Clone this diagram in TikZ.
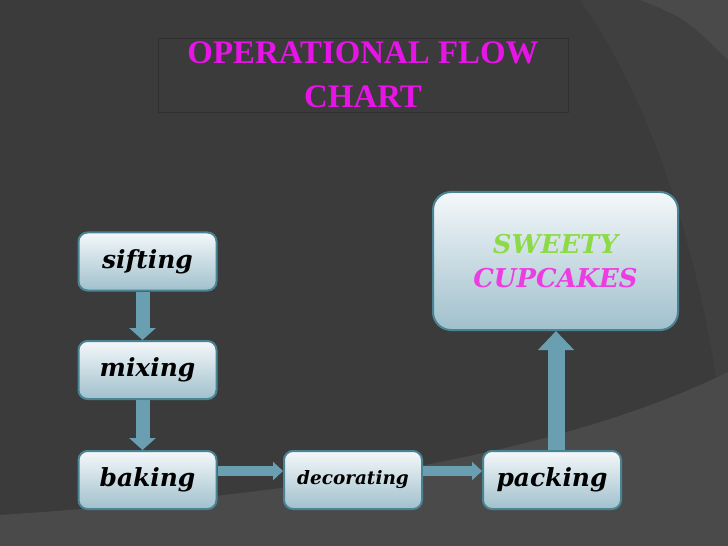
\documentclass[tikz,border=0pt]{standalone}
\usepackage{fontspec}
\usetikzlibrary{arrows.meta}
\newfontfamily\titlefont{Liberation Serif}
\newfontfamily\stepfont{DejaVu Serif}

\definecolor{slate}{RGB}{59,59,59}
\definecolor{slatemid}{RGB}{64,64,64}
\definecolor{slatelight}{RGB}{74,74,74}
\definecolor{frameline}{RGB}{48,48,48}
\definecolor{boxedge}{RGB}{74,132,148}
\definecolor{boxtop}{RGB}{244,248,250}
\definecolor{boxbot}{RGB}{160,192,204}
\definecolor{flowc}{RGB}{106,159,177}
\definecolor{titlec}{RGB}{230,20,230}
\definecolor{sweetc}{RGB}{140,218,70}
\definecolor{cakec}{RGB}{236,60,226}

\begin{document}
\begin{tikzpicture}[
  x=1bp, y=-1bp,
  box/.style={draw=boxedge, line width=2bp, rounded corners=9bp,
    top color=boxtop, bottom color=boxbot, minimum width=138bp, minimum height=58bp,
    inner sep=0pt, font=\stepfont\bfseries\itshape\fontsize{25}{27}\selectfont, text=black},
  bigbox/.style={box, minimum width=245bp, minimum height=138bp, rounded corners=18bp,
    align=center, font=\stepfont\bfseries\itshape\fontsize{26}{34}\selectfont},
  flow/.style={draw=flowc, line width=14bp, -{Triangle[length=12bp, width=26bp]}},
  flowthin/.style={draw=flowc, line width=9.5bp, -{Triangle[length=10bp, width=18bp]}},
  flowbig/.style={draw=flowc, line width=17bp, -{Triangle[length=19bp, width=35bp]}}
]

% --- Background ---
\useasboundingbox (0,0) rectangle (728,546);
\fill[slate] (0,0) rectangle (728,546);
\fill[slatemid] (580,0) .. controls (665,120) and (712,300) .. (728,470) -- (728,0) -- cycle;
\fill[slatelight] (640,0) .. controls (685,18) .. (728,60) -- (728,0) -- cycle;
\fill[slatelight] (0,515) .. controls (300,495) and (560,455) .. (728,372) -- (728,546) -- (0,546) -- cycle;

% (centres measured off the slide)
\coordinate (c1) at (147.5,261.5);
\coordinate (c2) at (147.5,370);
\coordinate (c3) at (147.5,480);
\coordinate (c4) at (353,480);
\coordinate (c5) at (552,480);
\coordinate (c6) at (555.5,261);

% --- Title ---
\node[draw=frameline, line width=0.8bp, minimum width=410bp, minimum height=74bp,
  align=center, text=titlec, font=\titlefont\bfseries\fontsize{33}{44}\selectfont]
  (title) at (363,75) {OPERATIONAL FLOW\\CHART};

% --- Steps ---
\node[box] (sifting)    at (c1) {sifting};
\node[box] (mixing)     at (c2) {mixing};
\node[box] (baking)     at (c3) {baking};
\node[box, font=\stepfont\bfseries\itshape\fontsize{18.5}{20}\selectfont]
           (decorating) at (c4) {decorating};
\node[box] (packing)    at (c5) {packing};
\node[bigbox] (sweety)  at (c6)
  {\textcolor{sweetc}{SWEETY}\\\textcolor{cakec}{CUPCAKES}};

% --- Arrows ---
\draw[flow] ([xshift=-5bp]sifting.south) -- ([xshift=-5bp]mixing.north);
\draw[flow] ([xshift=-5bp]mixing.south) -- ([xshift=-5bp]baking.north);
\draw[flowthin] ([yshift=9bp]baking.east) -- ([yshift=9bp]decorating.west);
\draw[flowthin] ([yshift=9bp]decorating.east) -- ([yshift=9bp]packing.west);
\draw[flowbig] ([xshift=4bp]packing.north) -- ([xshift=4bp]packing.north |- sweety.south);

\end{tikzpicture}
\end{document}
